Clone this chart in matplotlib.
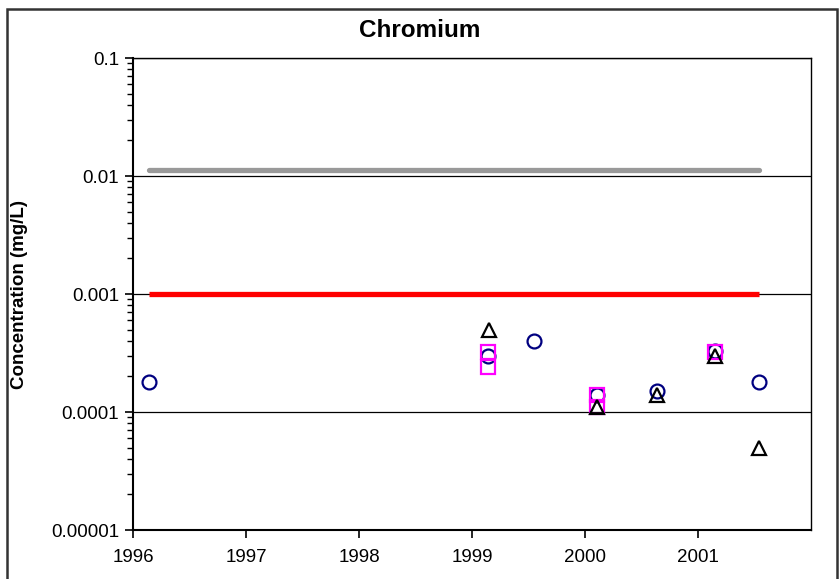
import matplotlib

matplotlib.use("Agg")
import matplotlib.pyplot as plt
from matplotlib.patches import Rectangle
from matplotlib.ticker import FixedLocator, LogLocator, NullFormatter

plt.rcParams["font.family"] = ["Liberation Sans", "DejaVu Sans"]

# sample dates (decimal years) and concentrations, mg/L
circle_dates = [1996.14, 1999.14, 1999.55, 2000.11, 2000.64, 2001.15, 2001.54]
circle_vals = [0.00018, 0.0003, 0.0004, 0.00014, 0.00015, 0.00033, 0.00018]

square_dates = [1999.14, 1999.14, 2000.11, 2000.11, 2001.15]
square_vals = [0.00032, 0.00024, 0.00014, 0.00011, 0.00032]

triangle_dates = [1999.15, 2000.11, 2000.64, 2001.15, 2001.54]
triangle_vals = [0.0005, 0.00011, 0.00014, 0.0003, 0.00005]

# reference levels spanning the sampling period
level_dates = [1996.14, 2001.54]
upper_level = [0.0112, 0.0112]
lower_level = [0.001, 0.001]

year_ticks = [1996, 1997, 1998, 1999, 2000, 2001]
conc_ticks = [0.1, 0.01, 0.001, 0.0001, 0.00001]
conc_labels = ["0.1", "0.01", "0.001", "0.0001", "0.00001"]

fig = plt.figure(figsize=(8.39, 5.79), dpi=100)
ax = fig.add_axes([0.1585, 0.0846, 0.8081, 0.8152])

for y in conc_ticks:
    ax.axhline(y, color="black", linewidth=0.9, zorder=1)

ax.plot(level_dates, upper_level, color="#999999", linewidth=3.8,
        solid_capstyle="round", zorder=2)
ax.plot(level_dates, lower_level, color="#ff0000", linewidth=3.8,
        solid_capstyle="butt", zorder=2)

ax.plot(circle_dates, circle_vals, linestyle="none", marker="o",
        markersize=10, markerfacecolor="none", markeredgecolor="#000080",
        markeredgewidth=1.6, zorder=3)
ax.plot(square_dates, square_vals, linestyle="none", marker="s",
        markersize=10, markerfacecolor="none", markeredgecolor="#ff00ff",
        markeredgewidth=1.6, zorder=4)
ax.plot(triangle_dates, triangle_vals, linestyle="none", marker="^",
        markersize=10, markerfacecolor="none", markeredgecolor="black",
        markeredgewidth=1.6, zorder=5)

ax.set_yscale("log")
ax.set_ylim(0.00001, 0.1)
ax.set_xlim(1996, 2002)
ax.yaxis.set_major_locator(FixedLocator(conc_ticks))
ax.set_yticklabels(conc_labels)
ax.yaxis.set_minor_locator(LogLocator(base=10, subs=range(2, 10)))
ax.yaxis.set_minor_formatter(NullFormatter())
ax.set_xticks(year_ticks)
ax.set_xticklabels([str(y) for y in year_ticks])

ax.tick_params(axis="both", which="major", direction="out", length=6,
               width=1.2, labelsize=13.5, pad=4)
ax.tick_params(axis="y", which="minor", direction="out", length=4, width=1.0)
ax.tick_params(axis="x", pad=8)
for side in ["left", "bottom", "right", "top"]:
    ax.spines[side].set_linewidth(1.0)
ax.spines["left"].set_linewidth(1.5)
ax.spines["bottom"].set_linewidth(1.5)

ax.set_ylabel("Concentration (mg/L)", fontsize=13.5, fontweight="bold")
ax.yaxis.set_label_coords(-0.155, 0.5)
fig.text(0.5, 0.948, "Chromium", ha="center", va="center",
         fontsize=17.5, fontweight="bold")

# chart border
fig.patches.append(Rectangle((7 / 839, -0.02), 830 / 839, 1.02 - 9 / 579,
                             transform=fig.transFigure, fill=False,
                             edgecolor="#333333", linewidth=1.8))

fig.savefig("out.png", dpi=100)
